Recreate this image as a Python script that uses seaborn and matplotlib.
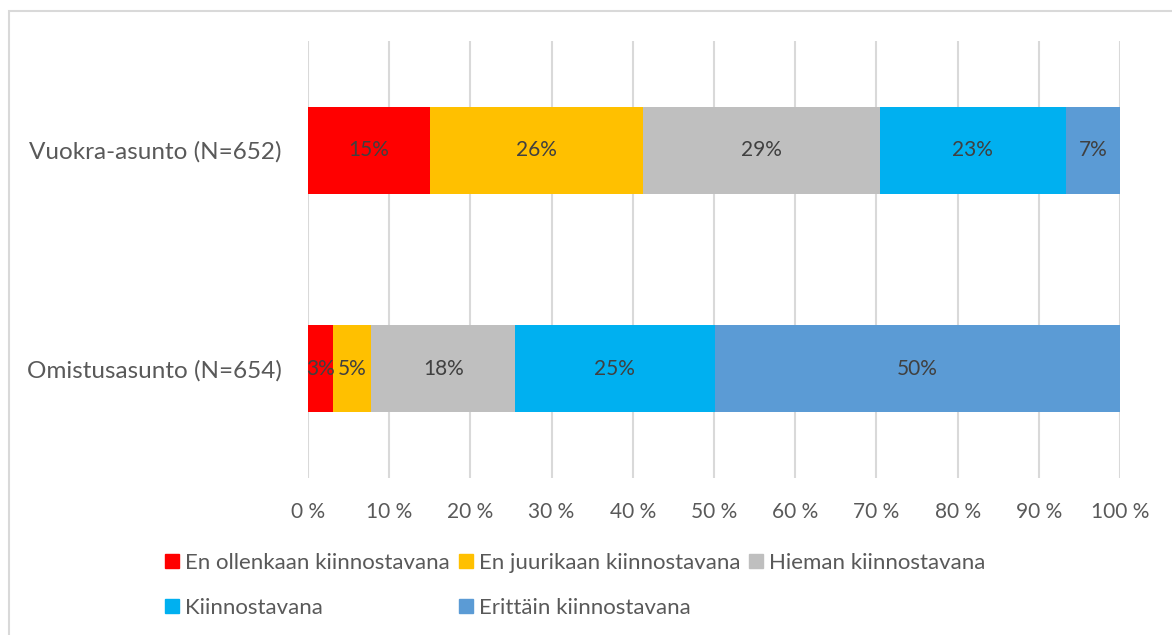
import matplotlib
matplotlib.use("Agg")
import matplotlib.pyplot as plt
import matplotlib.patches as mpatches
import numpy as np
import pandas as pd
import seaborn as sns

categories = ["Vuokra-asunto (N=652)", "Omistusasunto (N=654)"]
series_names = ["En ollenkaan kiinnostavana", "En juurikaan kiinnostavana",
                "Hieman kiinnostavana", "Kiinnostavana", "Erittäin kiinnostavana"]
vuokra = [15.0, 26.3, 29.1, 22.9, 6.7]
omistus = [3.1, 4.7, 17.7, 24.6, 49.9]
colors = ["#FF0000", "#FFC000", "#BFBFBF", "#00B0F0", "#5B9BD5"]
x_ticks = [0, 10, 20, 30, 40, 50, 60, 70, 80, 90, 100]
x_ticklabels = [f"{t} %" for t in x_ticks]

sns.set_theme(style="white")
plt.rcParams["font.family"] = ["Lato", "DejaVu Sans"]

TXT = "#595959"
LBL = "#404040"

values = np.array([vuokra, omistus])
cum = np.cumsum(values, axis=1)

fig = plt.figure(figsize=(11.72, 6.35), dpi=100)
ax = fig.add_axes([308 / 1172, 1 - 478 / 635, (1120 - 308) / 1172, (478 - 41) / 635])

# stacked bars: draw cumulative totals from largest to smallest
for i in reversed(range(len(series_names))):
    df = pd.DataFrame({"cat": categories, "val": cum[:, i]})
    sns.barplot(data=df, x="val", y="cat", orient="h", color=colors[i],
                width=0.4, saturation=1, ax=ax, zorder=3, linewidth=0)

for r in range(len(categories)):
    for i in range(len(series_names)):
        v = values[r, i]
        ax.text(cum[r, i] - v / 2, r, f"{round(v):d}%", ha="center", va="center",
                color=LBL, fontsize=15, zorder=5)

ax.set_xlim(0, 100)
ax.set_ylim(1.5, -0.5)
ax.set_xticks(x_ticks)
ax.set_xticklabels(x_ticklabels)
ax.set_xlabel("")
ax.set_ylabel("")
ax.xaxis.grid(True, color="#D9D9D9", linewidth=1.5, zorder=0)
ax.yaxis.grid(False)
for s in ax.spines.values():
    s.set_visible(False)
ax.tick_params(axis="x", length=0, pad=17, labelsize=15, labelcolor=TXT)
ax.tick_params(axis="y", length=0, pad=19, labelsize=17.5, labelcolor=TXT)

# legend, row-major order in 3 columns
handles = [mpatches.Patch(color=c, label=n) for c, n in zip(colors, series_names)]
order = [0, 3, 1, 4, 2]
leg = fig.legend([handles[k] for k in order], [series_names[k] for k in order],
                 ncol=3, loc="upper left", bbox_to_anchor=(165 / 1172, 1 - 553 / 635),
                 frameon=False, fontsize=16, labelcolor=TXT,
                 handlelength=0.63, handleheight=0.63, handletextpad=0.27,
                 columnspacing=0.4, labelspacing=1.12, borderaxespad=0, borderpad=0)

# chart border
fig.patches.append(mpatches.Rectangle((9 / 1172, -0.05), 1.2, 1 - 11 / 635 + 0.05,
                                      transform=fig.transFigure, fill=False,
                                      edgecolor="#D9D9D9", linewidth=1.5))

fig.savefig("out.png", dpi=100)
